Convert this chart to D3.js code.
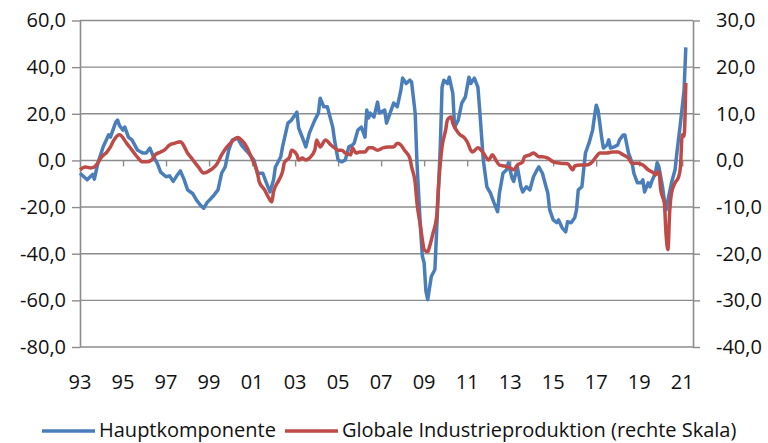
<!DOCTYPE html>
<html>
<head>
<meta charset="utf-8">
<script src="https://cdn.jsdelivr.net/npm/d3@7"></script>
<style>
  body { margin: 0; background: #fff; }
  svg { display: block; font-family: "Open Sans", sans-serif; }
</style>
</head>
<body>
<script>
// Hauptkomponente (linke Skala): [Monate seit Jan 1993, Wert]
const haupt = [[0,-5.5],[4,-8.3],[7,-6],[8,-8],[10,-1],[13,6],[16,11],[17,10],[20,16.5],[21,17.3],[22,15],[24,13],[25,14.3],[27,10],[29,8.8],[32,4.5],[35,3.2],[37,3.2],[39,5.3],[41,1.5],[43,-1],[45,-5],[48,-7],[50,-6.6],[52,-9],[54,-6.6],[56,-4.5],[58,-8],[60,-12.6],[63,-14.3],[65,-17],[67,-19],[69,-20.5],[71,-18],[74,-15.6],[77,-12.6],[79,-5.5],[81,-2.8],[83,4.5],[85,8.8],[88,9.5],[90,6.6],[94,3.2],[97,0.2],[99,-5.5],[102,-5.5],[104,-9.6],[106,-13.5],[108,-8.3],[109,-2.8],[112,1.5],[113,5.8],[116,16],[118,17.3],[121,20.7],[122,13.9],[124,10],[126,5.8],[128,11.8],[131,17.3],[133,20.3],[134,26.7],[136,23],[138,23],[141,14.3],[142,8.8],[144,0.2],[146,-0.6],[148,0.2],[150,5.8],[152,6.6],[153,7.5],[155,13],[157,14.3],[159,10],[160,21.6],[161,18.2],[162,20.3],[164,18.6],[166,25],[167,20.3],[170,21.6],[171,16],[173,20.3],[175,24.6],[177,23],[179,30],[180,35.3],[182,33],[184,34.4],[185,33.6],[187,20.3],[188,-1],[190,-29.7],[191,-41],[192,-44],[193,-56],[194,-59.7],[196,-49.8],[198,-46.8],[199,-29.7],[201,5.8],[202,31.4],[203,34.4],[205,33],[206,35.7],[208,28.8],[209,14.3],[211,17.3],[213,24.6],[215,27.2],[217,35.7],[218,33],[220,35.3],[222,31.4],[223,21.6],[225,0.2],[227,-11.3],[229,-14],[231,-18.2],[233,-22],[234,-14],[236,-5.5],[238,-4],[239,-1],[241,-7.5],[242,-9],[244,-2.8],[246,-11.3],[247,-13.5],[249,-11.3],[251,-12.6],[253,-7],[255,-4],[256,-2.8],[258,-5.5],[260,-11.3],[261,-14],[262,-21],[264,-25.5],[266,-26.7],[267,-25.5],[269,-28.9],[271,-30.6],[272,-26.3],[274,-26.7],[276,-24.6],[277,-21.2],[278,-12.6],[280,-11.3],[281,-4],[282,3.2],[284,7.5],[286,13],[287,18.6],[288,23.7],[289,21.6],[290,16],[291,10],[292,5.3],[294,6.6],[295,8.8],[296,5.3],[298,5.8],[300,6.6],[301,8.8],[303,10.9],[304,10.9],[306,3.2],[308,-1],[309,-5.5],[311,-9.6],[313,-9.6],[314,-8.3],[315,-13.5],[317,-9.6],[318,-11.3],[319,-9],[321,-5.5],[322,-1],[323,-2.8],[325,-11.3],[326,-17],[327,-21.2],[328,-17],[330,-9.6],[332,-4],[333,3.2],[335,16],[337,30],[338,48.5]];

// Globale Industrieproduktion (rechte Skala)
const industrie = [[0,-2],[3,-1.4],[6,-1.6],[8,-1.4],[10,-0.5],[12,0.7],[15,1.8],[17,2.9],[19,4.4],[22,5.5],[26,3.7],[29,2.2],[32,0.7],[35,-0.3],[37,-0.3],[40,0.1],[42,1.2],[45,1.8],[47,2.2],[50,3.3],[53,3.7],[56,4],[57,3.7],[60,1.6],[63,0.1],[66,-1.4],[69,-2.7],[73,-2],[76,-1],[79,1.2],[82,2.9],[84,3.7],[87,4.8],[88,4.9],[90,4.4],[93,2.9],[95,1.2],[97,-0.5],[99,-2.7],[100,-4.6],[103,-6.3],[105,-7.8],[107,-8.9],[108,-6.7],[111,-4.2],[113,-2.4],[114,-0.5],[117,0.8],[118,2.2],[121,1.2],[122,0.1],[124,0.5],[126,0.1],[128,0.5],[131,2.2],[132,4.4],[134,2.9],[136,4],[137,4.4],[140,3.3],[142,2.7],[144,2.2],[146,2.2],[148,1.6],[151,1.2],[152,2.7],[154,1.6],[156,1.8],[159,1.8],[161,2.7],[163,2.7],[166,2.2],[169,2.7],[172,2.9],[175,2.9],[177,3.7],[179,3.3],[181,2.2],[184,0.5],[185,-1.4],[187,-4.8],[188,-9.1],[190,-14.2],[191,-17],[192,-19.1],[194,-19.6],[195,-18.5],[197,-15.5],[199,-12],[200,-5.7],[202,2.9],[204,6.5],[205,8.7],[207,9.3],[208,8],[210,6.5],[212,5.5],[214,5],[216,4],[218,2.2],[219,1.8],[222,2.7],[225,1.6],[228,0.1],[230,1.2],[232,0.1],[234,-1],[237,-1.2],[240,-1.6],[242,-2],[244,-1],[247,-0.3],[248,0.8],[251,1.2],[253,1.6],[256,0.8],[258,0.8],[261,0.5],[264,-0.3],[268,-0.6],[272,-0.7],[275,-2],[276,-1.2],[279,-1],[282,-1],[285,-0.6],[288,0.8],[290,1.6],[294,1.6],[297,1.8],[300,1.8],[303,1.2],[306,0.5],[308,-0.6],[311,-0.6],[314,-1],[317,-2],[320,-2.7],[321,-3.1],[323,-2.4],[324,-6.3],[325,-7.8],[326,-9.1],[327,-16],[328,-19.1],[329,-11],[330,-7],[332,-4.8],[334,-3.5],[335,-1.4],[336,5.5],[337,5.2],[338,16.6]];

const leftTicks = [-80, -60, -40, -20, 0, 20, 40, 60];
const rightTicks = [-40, -30, -20, -10, 0, 10, 20, 30];
const xTickMonths = [0, 24, 48, 72, 96, 120, 144, 168, 192, 216, 240, 264, 288, 312, 336];
const xTickLabels = ["93", "95", "97", "99", "01", "03", "05", "07", "09", "11", "13", "15", "17", "19", "21"];
const seriesNames = ["Hauptkomponente", "Globale Industrieproduktion (rechte Skala)"];
const colors = ["#4a7ebb", "#be4b48"];

const w = 768, h = 443;
const plot = { left: 80, right: 693, top: 20.5, bottom: 347 };
const grey = "#8c8c8c";

const fmt = d3.formatLocale({ decimal: ",", thousands: ".", grouping: [3], currency: ["", ""], minus: "-" }).format(".1f");

const x = d3.scaleLinear().domain([0, 342]).range([plot.left, plot.right]);
const yL = d3.scaleLinear().domain([-80, 60]).range([plot.bottom, plot.top]);
const yR = d3.scaleLinear().domain([-40, 30]).range([plot.bottom, plot.top]);

const svg = d3.select("body").append("svg")
  .attr("width", w)
  .attr("height", h);

// horizontal gridlines
svg.append("g")
  .selectAll("line")
  .data(leftTicks)
  .enter()
  .append("line")
  .attr("x1", plot.left)
  .attr("x2", plot.right)
  .attr("y1", d => yL(d))
  .attr("y2", d => yL(d))
  .attr("stroke", grey)
  .attr("stroke-width", 1.4);

// axes
const styleAxis = g => {
  g.selectAll(".domain").attr("stroke", grey).attr("stroke-width", 1.6);
  g.selectAll(".tick line").attr("stroke", grey).attr("stroke-width", 1.4);
  g.selectAll("text")
    .attr("font-family", "'Open Sans', sans-serif")
    .attr("font-size", 20)
    .attr("fill", "#111");
  g.attr("font-family", null).attr("font-size", null);
};

svg.append("g")
  .attr("transform", `translate(${plot.left},0)`)
  .call(d3.axisLeft(yL).tickValues(leftTicks).tickSize(8).tickSizeOuter(0).tickPadding(6).tickFormat(fmt))
  .call(styleAxis);

svg.append("g")
  .attr("transform", `translate(${plot.right},0)`)
  .call(d3.axisRight(yR).tickValues(rightTicks).tickSize(7).tickSizeOuter(0).tickPadding(16).tickFormat(fmt))
  .call(styleAxis);

// category axis sits on the zero line, labels sit below the plot
svg.append("g")
  .attr("transform", `translate(0,${yL(0)})`)
  .call(d3.axisBottom(x).tickValues(xTickMonths.slice(1)).tickSize(6).tickSizeOuter(0).tickFormat(""))
  .call(styleAxis)
  .select(".domain").remove();

svg.append("g")
  .selectAll("text")
  .data(xTickMonths)
  .enter()
  .append("text")
  .attr("x", d => x(d))
  .attr("y", 389)
  .attr("text-anchor", "middle")
  .attr("font-size", 20)
  .attr("fill", "#111")
  .text((d, i) => xTickLabels[i]);

// lines
const lineL = d3.line().x(d => x(d[0])).y(d => yL(d[1]));
const lineR = d3.line().x(d => x(d[0])).y(d => yR(d[1])).curve(d3.curveMonotoneX);

svg.append("path")
  .datum(haupt)
  .attr("d", lineL)
  .attr("fill", "none")
  .attr("stroke", colors[0])
  .attr("stroke-width", 3.5)
  .attr("stroke-linejoin", "round");

svg.append("path")
  .datum(industrie)
  .attr("d", lineR)
  .attr("fill", "none")
  .attr("stroke", colors[1])
  .attr("stroke-width", 3.5)
  .attr("stroke-linejoin", "round");

// legend
const legendX = [42, 285];
const legend = svg.append("g")
  .selectAll("g")
  .data(seriesNames)
  .enter()
  .append("g")
  .attr("transform", (d, i) => `translate(${legendX[i]},431)`);

legend.append("line")
  .attr("x1", 0)
  .attr("x2", 53)
  .attr("stroke", (d, i) => colors[i])
  .attr("stroke-width", 3.5);

legend.append("text")
  .attr("x", 57)
  .attr("y", 6)
  .attr("font-size", 20)
  .attr("fill", "#111")
  .text(d => d);
</script>
</body>
</html>
